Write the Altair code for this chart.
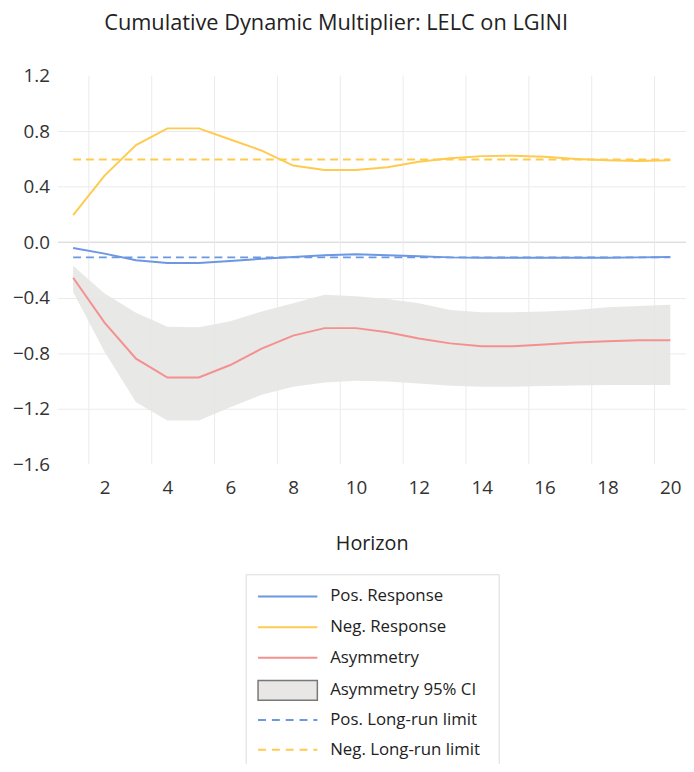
import altair as alt
import pandas as pd

horizon = list(range(1, 21))
pos_response = [-0.043, -0.083, -0.13, -0.15, -0.15, -0.136, -0.12, -0.107, -0.095, -0.088,
                -0.095, -0.102, -0.11, -0.112, -0.112, -0.112, -0.112, -0.112, -0.11, -0.107]
neg_response = [0.195, 0.48, 0.70, 0.82, 0.82, 0.74, 0.66, 0.552, 0.52, 0.52,
                0.54, 0.58, 0.605, 0.62, 0.623, 0.615, 0.60, 0.59, 0.585, 0.59]
asymmetry = [-0.257, -0.58, -0.84, -0.976, -0.976, -0.886, -0.767, -0.674, -0.62, -0.62,
             -0.65, -0.695, -0.73, -0.75, -0.75, -0.738, -0.724, -0.714, -0.707, -0.707]
ci_upper = [-0.17, -0.37, -0.51, -0.61, -0.614, -0.57, -0.50, -0.44, -0.38, -0.39,
            -0.41, -0.44, -0.49, -0.505, -0.505, -0.50, -0.49, -0.47, -0.46, -0.452]
ci_lower = [-0.36, -0.79, -1.155, -1.286, -1.286, -1.19, -1.10, -1.043, -1.012, -1.0,
            -1.005, -1.019, -1.036, -1.043, -1.043, -1.038, -1.033, -1.03, -1.03, -1.03]
pos_long_run = -0.11
neg_long_run = 0.595

x_ticks = [2, 4, 6, 8, 10, 12, 14, 16, 18, 20]
x_grid = [1.5, 3.5, 5.5, 7.5, 9.5, 11.5, 13.5, 15.5, 17.5, 19.5]
y_ticks = [-1.6, -1.2, -0.8, -0.4, 0.0, 0.4, 0.8, 1.2]

line_names = ["Pos. Response", "Neg. Response", "Asymmetry"]
line_colors = ["#6b97e3", "#ffcb4f", "#f4908e"]
ci_name = "Asymmetry 95% CI"
ci_color = "#e6e5e4"
lr_names = ["Pos. Long-run limit", "Neg. Long-run limit"]
lr_colors = ["#6b97e3", "#ffcb4f"]

FONT = "Open Sans"

rows = []
for i, h in enumerate(horizon):
    rows.append({"h": h, "series": "Pos. Response", "v": pos_response[i]})
    rows.append({"h": h, "series": "Neg. Response", "v": neg_response[i]})
    rows.append({"h": h, "series": "Asymmetry", "v": asymmetry[i]})
lines_df = pd.DataFrame(rows)

lr_rows = []
for h in horizon:
    lr_rows.append({"h": h, "lr": "Pos. Long-run limit", "v": pos_long_run})
    lr_rows.append({"h": h, "lr": "Neg. Long-run limit", "v": neg_long_run})
lr_df = pd.DataFrame(lr_rows)

ci_df = pd.DataFrame({"h": horizon, "lo": ci_lower, "hi": ci_upper,
                      "ci": [ci_name] * len(horizon)})
grid_df = pd.DataFrame({"g": x_grid})

x_scale = alt.Scale(domain=[0.5, 20.5], nice=False, zero=False)
y_scale = alt.Scale(domain=[-1.6, 1.2], nice=False, zero=False)

x_axis = alt.Axis(values=x_ticks, grid=False, ticks=False, domain=False,
                  labelFont=FONT, labelFontSize=19, labelColor="#333", labelPadding=15,
                  title="Horizon", titleFont=FONT, titleFontSize=20,
                  titleFontWeight="normal", titleColor="#222", titlePadding=36)
y_axis = alt.Axis(values=y_ticks, format=".1f", ticks=False, domain=False,
                  labelFont=FONT, labelFontSize=19, labelColor="#333", labelPadding=8,
                  title=None,
                  gridColor={"condition": {"test": "datum.value === 0", "value": "#cfcfcf"}, "value": "#ebebeb"},
                  gridOpacity={"condition": {"test": "datum.value > 1.1 || datum.value < -1.5", "value": 0}, "value": 1})

LEG_X = 202
common_leg = dict(title=None, orient="none", legendX=LEG_X, padding=0,
                  symbolSize=400, symbolOffset=20, labelOffset=32,
                  labelFont=FONT, labelFontSize=17, labelColor="#222", labelLimit=300)

leg_lines = alt.Legend(legendY=516, rowPadding=12, symbolType="M-3,0H3",
                       symbolStrokeWidth=2, **common_leg)
leg_ci = alt.Legend(legendY=611, symbolType="M-3,-1H3V1H-3Z", symbolStrokeColor="#6a6a6a",
                    symbolStrokeWidth=1.5, **common_leg)
leg_lr = alt.Legend(legendY=641, rowPadding=11, symbolType="M-3,0H3",
                    symbolStrokeWidth=2, symbolDash=[8, 6], **common_leg)

grid = alt.Chart(grid_df).mark_rule(color="#ebebeb", strokeWidth=1).encode(
    x=alt.X("g:Q", scale=x_scale, axis=x_axis)
)

area = alt.Chart(ci_df).mark_area(opacity=0.9).encode(
    x=alt.X("h:Q", scale=x_scale, axis=x_axis),
    y=alt.Y("lo:Q", scale=y_scale, axis=y_axis),
    y2="hi:Q",
    fill=alt.Fill("ci:N", scale=alt.Scale(domain=[ci_name], range=[ci_color]), legend=leg_ci),
)

lines = alt.Chart(lines_df).mark_line(strokeWidth=2).encode(
    x=alt.X("h:Q", scale=x_scale, axis=x_axis),
    y=alt.Y("v:Q", scale=y_scale, axis=y_axis),
    stroke=alt.Stroke("series:N", scale=alt.Scale(domain=line_names, range=line_colors),
                      legend=leg_lines),
)

lr_lines = alt.Chart(lr_df).mark_line(strokeWidth=2, strokeDash=[8, 5]).encode(
    x=alt.X("h:Q", scale=x_scale, axis=x_axis),
    y=alt.Y("v:Q", scale=y_scale, axis=y_axis),
    color=alt.Color("lr:N", scale=alt.Scale(domain=lr_names, range=lr_colors), legend=leg_lr),
)

# frame drawn around the legend block (decoration only)
legend_frame = alt.Chart(pd.DataFrame({"k": [0]})).mark_rect(
    fill="transparent", stroke="#dcdcdc", strokeWidth=1
).encode(
    x=alt.value(191), x2=alt.value(447), y=alt.value(505), y2=alt.value(720)
)

chart = alt.layer(grid, area, lr_lines, lines, legend_frame).properties(
    width=636, height=393,
    title=alt.TitleParams("Cumulative Dynamic Multiplier: LELC on LGINI", font=FONT, fontSize=22,
                          fontWeight="normal", color="#222", anchor="middle", dx=-36,
                          offset=32),
    autosize=alt.AutoSizeParams(type="none"),
    padding={"left": 50, "top": 64, "right": 0, "bottom": 299},
).configure_view(stroke=None)

chart.save("out.html", embed_options={"renderer": "svg", "actions": False})
